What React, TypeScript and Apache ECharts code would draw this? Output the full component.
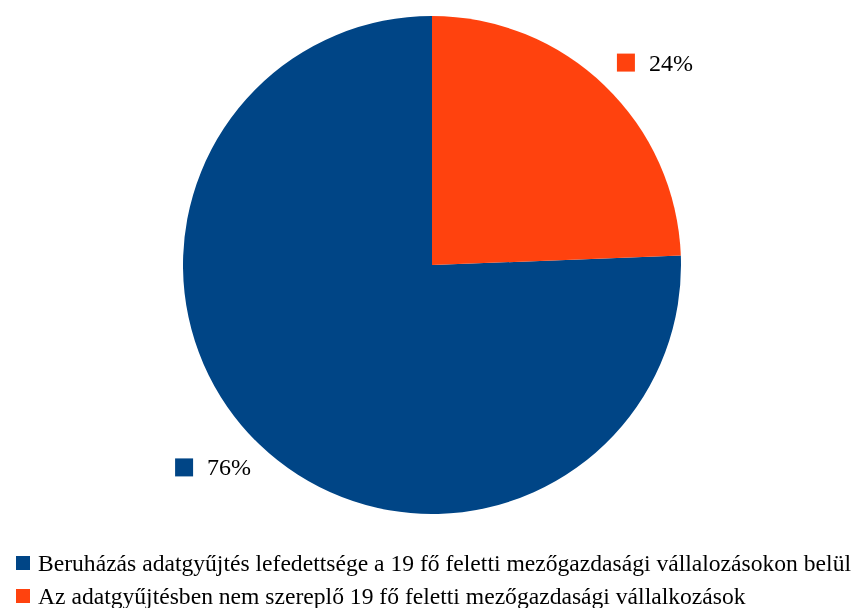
import React, { useEffect, useRef } from "react";
import * as echarts from "echarts";

const categories = [
  "Beruházás adatgyűjtés lefedettsége a 19 fő feletti mezőgazdasági vállalozásokon belül",
  "Az adatgyűjtésben nem szereplő 19 fő feletti mezőgazdasági vállalkozások",
];
const values = [75.6, 24.4];
const colors = ["#004586", "#ff420e"];

export default function App() {
  const ref = useRef<HTMLDivElement>(null);
  useEffect(() => {
    if (!ref.current) return;
    const chart = echarts.init(ref.current, null, { renderer: "svg" });
    const font = "'Liberation Serif', 'Times New Roman', serif";
    chart.setOption({
      animation: false,
      color: colors,
      legend: {
        orient: "vertical",
        left: 11,
        top: 546,
        height: 80,
        itemWidth: 14,
        itemHeight: 14,
        itemGap: 9,
        icon: "rect",
        data: categories,
        textStyle: { fontFamily: font, fontSize: 23.6, color: "#000", padding: [0, 0, 0, 3] },
      },
      series: [
        {
          type: "pie",
          center: [432, 265],
          radius: 249,
          startAngle: 90,
          clockwise: false,
          avoidLabelOverlap: false,
          data: categories.map((c, i) => ({ name: c, value: values[i] })),
          label: {
            show: true,
            position: "outside",
            distanceToLabelLine: -12,
            formatter: (p: any) => `{${p.dataIndex === 0 ? "a" : "b"}|}{t|${Math.round(p.percent)}%}`,
            rich: {
              a: { width: 18, height: 18, backgroundColor: colors[0] },
              b: { width: 18, height: 18, backgroundColor: colors[1] },
              t: { fontFamily: font, fontSize: 24, color: "#000", padding: [0, 0, 0, 14] },
            },
          },
          labelLine: { show: false, length: 32, length2: 0 },
          labelLayout: { dx: 2 },
          emphasis: { disabled: true },
        },
      ],
    });
    return () => chart.dispose();
  }, []);
  return <div ref={ref} style={{ position: "fixed", left: 0, top: 0, width: 856, height: 608 }} />;
}
